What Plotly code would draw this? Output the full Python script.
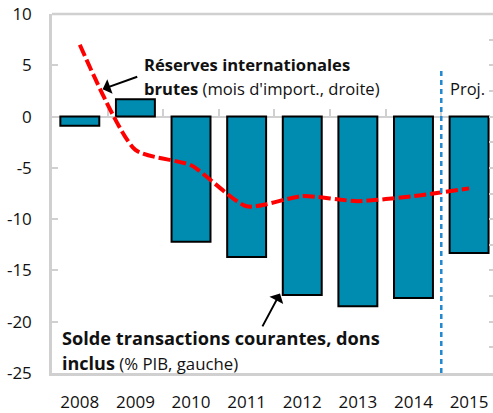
import plotly.graph_objects as go

years = ["2008", "2009", "2010", "2011", "2012", "2013", "2014", "2015"]
current_account = [-0.9, 1.7, -12.2, -13.7, -17.4, -18.5, -17.7, -13.3]   # % PIB, left axis
reserves_months = [6.4, 4.35, 4.05, 3.25, 3.45, 3.35, 3.45, 3.6]          # mois d'import., right axis
left_ticks = [10, 5, 0, -5, -10, -15, -20, -25]

FONT = "Open Sans"
GRAY = "#D0D0D0"
TXT = "#111111"

fig = go.Figure()
fig.add_trace(go.Bar(
    x=years, y=current_account, xaxis="x", yaxis="y",
    marker=dict(color="#008CB0", line=dict(color="#000000", width=2)),
    width=0.7, showlegend=False, hoverinfo="skip"))
fig.add_trace(go.Scatter(
    x=years, y=reserves_months, xaxis="x2", yaxis="y2", mode="lines",
    line=dict(color="#FF0000", width=4, dash="12px,4px", shape="spline", smoothing=0.6),
    showlegend=False, hoverinfo="skip"))

annos = [
    dict(x=1.12, y=5.05, text="<b>Réserves internationales</b>", size=16.6),
    dict(x=1.12, y=2.75, text="<b>brutes</b> (mois d'import., droite)", size=16.6),
    dict(x=-0.36, y=-21.6, text="<b>Solde transactions courantes, dons</b>", size=18.2),
    dict(x=-0.36, y=-24.05,
         text="<span style='font-size:18px'><b>inclus</b></span> (% PIB, gauche)", size=16.8),
    dict(x=6.62, y=2.75, text="Proj.", size=16.5),
]
annotations = []
for a in annos:
    size = a.pop("size")
    a.update(xref="x", yref="y", showarrow=False, xanchor="left", yanchor="middle",
             font=dict(family=FONT, size=size, color=TXT))
    annotations.append(a)
for (x, y, ax, ay) in [(0.41, 2.67, 1.06, 3.94), (3.6, -17.25, 3.27, -20.6)]:
    annotations.append(dict(x=x, y=y, ax=ax, ay=ay, xref="x", yref="y", axref="x", ayref="y",
                            text="", showarrow=True, arrowhead=1, arrowsize=1.3,
                            arrowwidth=2, arrowcolor="#000000"))

fig.update_layout(
    width=493, height=413,
    margin=dict(l=52, r=0, t=14, b=40),
    paper_bgcolor="white", plot_bgcolor="white",
    font=dict(family=FONT, size=17, color=TXT),
    xaxis=dict(type="category", range=[-0.5, 7.43], showline=True, linecolor=GRAY, linewidth=2.5,
               ticks="", showgrid=False, zeroline=False,
               tickfont=dict(family=FONT, size=17, color=TXT), ticklabelstandoff=12),
    xaxis2=dict(type="category", overlaying="x", matches="x", anchor="free", position=25/35,
                showline=True, linecolor=GRAY, linewidth=2, ticks="inside", ticklen=7,
                tickwidth=2, tickcolor=GRAY, tickson="boundaries", showticklabels=False,
                showgrid=False, zeroline=False, layer="below traces"),
    yaxis=dict(range=[-25, 10], tickvals=left_ticks, ticktext=[str(v) for v in left_ticks],
               showline=True, linecolor=GRAY, linewidth=2.5, ticks="inside", ticklen=6,
               tickwidth=2, tickcolor=GRAY, showgrid=False, zeroline=False,
               tickfont=dict(family=FONT, size=17, color=TXT), ticklabelstandoff=14),
    yaxis2=dict(range=[0, 7], dtick=0.5, overlaying="y", anchor="x", side="right",
                showline=False, ticks="inside", ticklen=4, tickwidth=2, tickcolor=GRAY,
                showticklabels=False, showgrid=False, zeroline=False),
    shapes=[
        dict(type="line", xref="x", yref="y", x0=6.5, x1=6.5, y0=-25, y1=4.8,
             line=dict(color="#2088D0", width=2.5, dash="5px,4px")),
        dict(type="line", xref="paper", yref="paper", x0=0, x1=1, y0=1, y1=1,
             line=dict(color=GRAY, width=2.5)),
    ],
    annotations=annotations,
)

# remove the browser's default 8px body margin so the figure sits at the page origin
fig.write_html("out.html", config={"displayModeBar": False},
               post_script="document.body.style.margin='0';document.body.style.overflow='hidden';")
